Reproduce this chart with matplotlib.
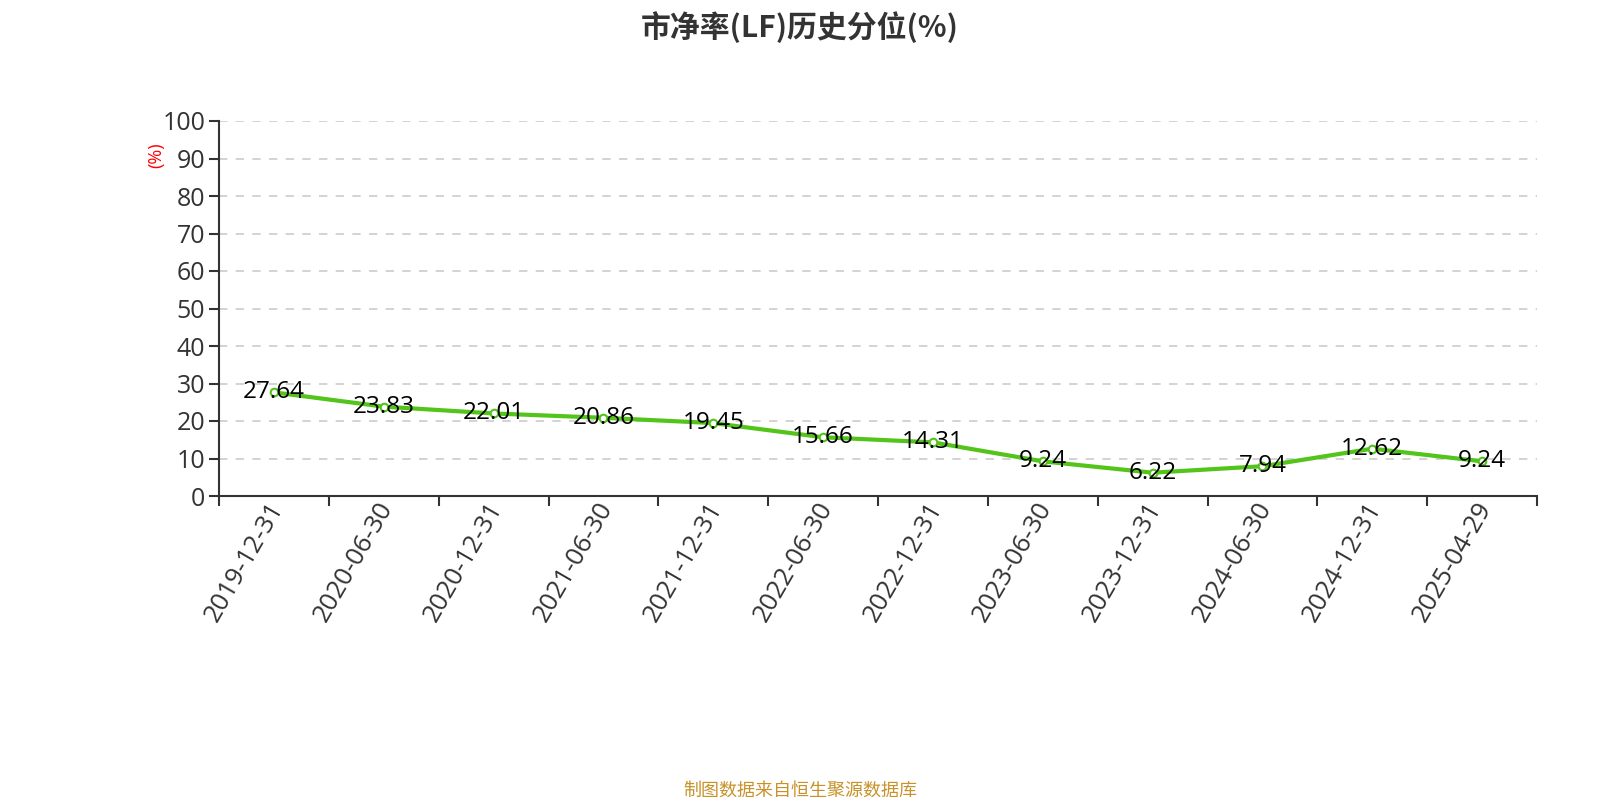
import matplotlib
matplotlib.use('Agg')
import matplotlib.pyplot as plt
import matplotlib.transforms as mtransforms

plt.rcParams['font.family'] = ['Open Sans', 'Noto Sans CJK SC', 'DejaVu Sans']

# dados do grafico
datas = ['2019-12-31', '2020-06-30', '2020-12-31', '2021-06-30', '2021-12-31', '2022-06-30',
         '2022-12-31', '2023-06-30', '2023-12-31', '2024-06-30', '2024-12-31', '2025-04-29']
valores = [27.64, 23.83, 22.01, 20.86, 19.45, 15.66, 14.31, 9.24, 6.22, 7.94, 12.62, 9.24]
y_ticks = [0, 10, 20, 30, 40, 50, 60, 70, 80, 90, 100]

verde = '#52c41a'
eixo = '#333333'

fig = plt.figure(figsize=(16, 8), dpi=100)
ax = fig.add_axes([219 / 1600, 1 - 496 / 800, (1537 - 219) / 1600, (496 - 121) / 800])

x = list(range(len(datas)))
ax.plot(x, valores, color=verde, linewidth=3, zorder=3)
ax.scatter(x, valores, s=30, facecolor='white', edgecolor=verde, linewidth=1.5, zorder=4)

for xi, v in zip(x, valores):
    ax.text(xi, v, f'{v:.2f}', ha='center', va='center', fontsize=17.5, color='black', zorder=5)

ax.set_xlim(-0.5, len(datas) - 0.5)
ax.set_ylim(0, 100)
ax.set_yticks(y_ticks)
ax.set_xticks([i - 0.5 for i in range(len(datas) + 1)])
ax.set_xticklabels([])
ax.set_xticks(x, minor=True)
ax.set_xticklabels(datas, minor=True, rotation=60, ha='right', va='top',
                   rotation_mode='anchor', fontsize=18.5, color=eixo)
ax.tick_params(axis='x', which='minor', length=0, pad=1)
ax.tick_params(axis='x', which='major', length=7, width=1.5, color=eixo)
ax.tick_params(axis='y', length=7, width=1.5, color=eixo, labelsize=18, labelcolor=eixo, pad=3)

# desloca um pouco os rotulos do eixo x para a esquerda
desloc = mtransforms.ScaledTranslation(-7 / 100, 0, fig.dpi_scale_trans)
for lbl in ax.get_xticklabels(minor=True):
    lbl.set_transform(lbl.get_transform() + desloc)

for yv in y_ticks[1:]:
    ax.axhline(yv, color='#cccccc', linestyle=(0, (5, 5)), linewidth=1.2, zorder=1)

ax.spines['top'].set_visible(False)
ax.spines['right'].set_visible(False)
ax.spines['left'].set_color(eixo)
ax.spines['bottom'].set_color(eixo)
ax.spines['left'].set_linewidth(1.5)
ax.spines['bottom'].set_linewidth(1.5)

fig.text(156 / 1600, 1 - 155 / 800, '(%)', rotation=90, color='red', fontsize=13,
         ha='center', va='center')
fig.text(0.5, 1 - 27 / 800, '市净率(LF)历史分位(%)', ha='center', va='center',
         fontsize=21.5, fontweight='bold', color=eixo,
         family=['Noto Sans CJK SC', 'DejaVu Sans'])
fig.text(0.5, 1 - 791 / 800, '制图数据来自恒生聚源数据库', ha='center', va='center',
         fontsize=13, color='#c8922a', family=['Noto Sans CJK SC', 'DejaVu Sans'])

fig.savefig('out.png')
